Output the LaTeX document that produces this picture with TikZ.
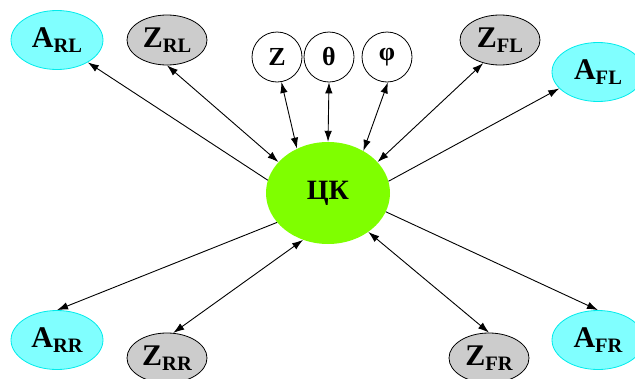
\documentclass[tikz,border=0pt]{standalone}
\usepackage{fontspec}
\setmainfont{Liberation Serif}
\usetikzlibrary{shapes.geometric,arrows.meta}

\definecolor{acyan}{RGB}{128,255,255}
\definecolor{aedge}{RGB}{0,235,235}
\definecolor{zgray}{RGB}{204,204,204}
\definecolor{hubgreen}{RGB}{127,255,0}

% Letter with a lowered, smaller two-letter index
\newcommand\idxlabel[2]{#1\raisebox{-5pt}{\fontsize{20.5}{20.5}\selectfont #2}}

\begin{document}
\begin{tikzpicture}[x=1pt,y=-1pt,
  base/.style={ellipse,inner sep=0pt,line width=0.8pt,
    font=\bfseries\fontsize{30}{30}\selectfont},
  anode/.style={base,draw=aedge,fill=acyan,minimum width=92pt,minimum height=59pt},
  znode/.style={base,draw=black,fill=zgray,minimum width=80pt,minimum height=50pt},
  angnode/.style={circle,draw=black,line width=0.8pt,fill=white,inner sep=0pt,
    minimum size=50pt,font=\bfseries\fontsize{26}{26}\selectfont},
  hub/.style={ellipse,fill=hubgreen,inner sep=0pt,minimum width=124pt,
    minimum height=102pt,font=\bfseries\fontsize{28}{28}\selectfont},
  tip/.tip={Latex[length=11pt,width=7.5pt]},
  link/.style={line width=0.9pt,-tip},
  dlink/.style={line width=0.9pt,tip-tip},
]
\useasboundingbox (0,0) rectangle (635,378);
\clip (0,0) rectangle (635,378);

% central node
\node[hub] (ck) at (328,193) {ЦК};

% angle sensors
\node[angnode] (z)   at (277,57) {Z};
\node[angnode] (th)  at (329,57) {θ};
\node[angnode] (phi) at (387,57) {φ};

% Z nodes
\node[znode] (zrl) at (167,40)  {\idxlabel{Z}{RL}};
\node[znode] (zfl) at (500,40)  {\idxlabel{Z}{FL}};
\node[znode] (zrr) at (167,358) {\idxlabel{Z}{RR}};
\node[znode] (zfr) at (489,358) {\idxlabel{Z}{FR}};

% A nodes
\node[anode] (arl) at (57,40)   {\idxlabel{A}{RL}};
\node[anode] (afl) at (598,72)  {\idxlabel{A}{FL}};
\node[anode] (arr) at (57,340)  {\idxlabel{A}{RR}};
\node[anode] (afr) at (598,340) {\idxlabel{A}{FR}};

% connectors
\draw[dlink] (z.-80)    -- (ck.125);
\draw[dlink] (th.south) -- (ck.north);
\draw[dlink] (phi.-88)  -- (ck.50);
\draw[dlink] (zrl.south) -- (ck.148);
\draw[dlink] (zfl.-126) -- (ck.32);
\draw[dlink] (zrr.76)   -- (ck.-118);
\draw[dlink] (zfr.north) -- (ck.-44);
\draw[link] (ck.168)  -- (arl.-36);
\draw[link] (ck.11)   -- (afl.-157);
\draw[link] (ck.-150) -- (arr.north);
\draw[link] (ck.-18)  -- (afr.north);
\end{tikzpicture}
\end{document}
